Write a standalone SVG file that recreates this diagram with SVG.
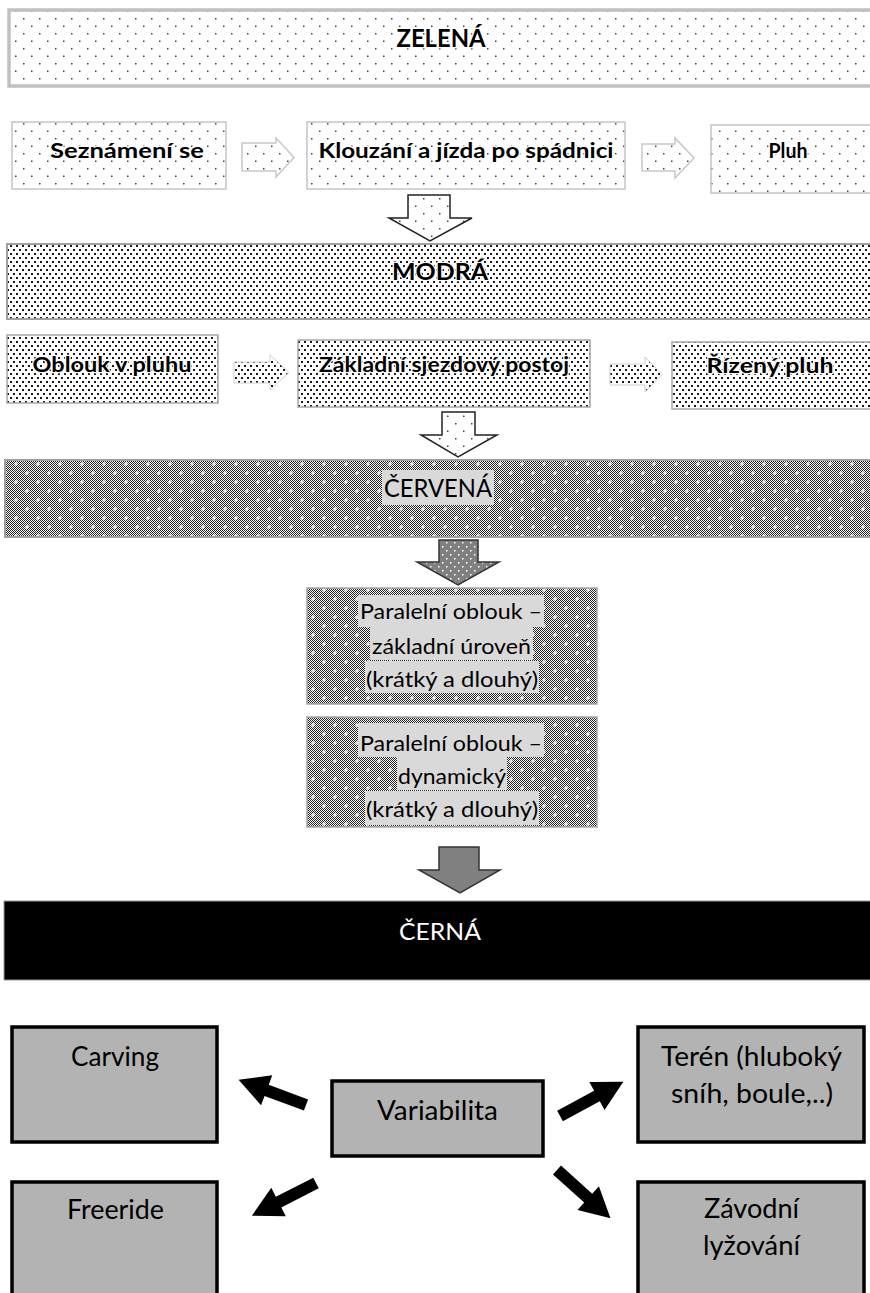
<svg xmlns="http://www.w3.org/2000/svg" width="870" height="1293" viewBox="0 0 870 1293">
<style>
text{font-family:Lato,"Open Sans","DejaVu Sans",sans-serif;text-anchor:middle;fill:#000}
.b{font-weight:bold}
.halo{stroke:#fff;stroke-width:2.5;paint-order:stroke;stroke-linejoin:round}
.sparse{fill:url(#pSparse)}
.dense{fill:url(#pDense)}
.dark{fill:url(#pDark)}
.hl{fill:#d9d9d9}
.gbox{fill:#b3b3b3;stroke:#000;stroke-width:3.5}
.bord1{stroke:#c4c4c4;stroke-width:1.5}
.bord2{stroke:#a6a6a6;stroke-width:1.5}
.ban1{stroke:#c0c0c0;stroke-width:3.5}
.ban2{stroke:#a0a0a0;stroke-width:2}
.lt-arrow{fill:url(#pSparse);stroke:#c8c8c8;stroke-width:1.5}
.dn-arrow{fill:url(#pDense);stroke:#d0d0d0;stroke-width:1}
.out-arrow{fill:url(#pSparse);stroke:#222;stroke-width:1.5}
.red-arrow{fill:url(#pGrayDot);stroke:#333;stroke-width:1.5}
.blk-arrow{fill:#808080;stroke:#333;stroke-width:1.5}
.bl{fill:#000}
.wt{fill:#fff}
</style>
<defs>
<pattern id="pSparse" width="16" height="15" patternUnits="userSpaceOnUse">
<rect width="16" height="15" fill="#fff"/>
<rect x="7" y="3" width="1.5" height="1.5" fill="#444"/>
<rect x="15" y="10.5" width="1.5" height="1.5" fill="#444"/>
<rect x="-1" y="10.5" width="1.5" height="1.5" fill="#444"/>
</pattern>
<pattern id="pDense" width="6" height="8" patternUnits="userSpaceOnUse">
<rect width="6" height="8" fill="#fff"/>
<rect x="1" y="1" width="2" height="2" fill="#1a1a1a"/>
<rect x="4" y="5" width="2" height="2" fill="#1a1a1a"/>
</pattern>
<pattern id="pChk" width="2" height="2" patternUnits="userSpaceOnUse">
<rect width="2" height="2" fill="#fff"/>
<rect x="0" y="0" width="1" height="1" fill="#222"/>
<rect x="1" y="1" width="1" height="1" fill="#222"/>
</pattern>
<pattern id="pDark" width="22" height="18" patternUnits="userSpaceOnUse">
<rect width="22" height="18" fill="url(#pChk)"/>
<path d="M5 3v4M3 5h4M16 12v4M14 14h4" stroke="#fff" stroke-width="1.2"/>
</pattern>
<pattern id="pGrayDot" width="8" height="8" patternUnits="userSpaceOnUse">
<rect width="8" height="8" fill="#808080"/>
<rect x="2" y="2" width="1.5" height="1.5" fill="#fff"/>
<rect x="6" y="6" width="1.5" height="1.5" fill="#fff"/>
</pattern>
<path id="bigArrow" d="M0,-6 L42,-6 L42,-16 L72,0 L42,16 L42,6 L0,6 Z"/>
</defs>

<g id="zelena">
<rect x="9" y="10" width="868" height="76" class="sparse ban1"/>
<text x="441" y="47" font-size="24" class="b halo" textLength="89" lengthAdjust="spacingAndGlyphs">ZELENÁ</text>
</g>

<g id="seznameni">
<rect x="12" y="122" width="214" height="67" class="sparse bord1"/>
<text x="127" y="158" font-size="21" class="b halo" textLength="154" lengthAdjust="spacingAndGlyphs">Seznámení se</text>
</g>
<g id="klouzani">
<rect x="307" y="122" width="318" height="67" class="sparse bord1"/>
<text x="466" y="158" font-size="21" class="b halo" textLength="295" lengthAdjust="spacingAndGlyphs">Klouzání a jízda po spádnici</text>
</g>
<g id="pluh">
<rect x="711" y="125" width="170" height="68" class="sparse bord1"/>
<text x="788" y="158" font-size="21" class="b halo" textLength="39" lengthAdjust="spacingAndGlyphs">Pluh</text>
</g>

<g id="modra">
<rect x="7" y="244" width="870" height="75" class="dense ban2"/>
<text x="440" y="280" font-size="23" class="b halo" textLength="96" lengthAdjust="spacingAndGlyphs">MODRÁ</text>
</g>

<g id="oblouk-v-pluhu">
<rect x="7" y="335" width="211" height="68" class="dense bord2"/>
<text x="112" y="372" font-size="21" class="b halo" textLength="159" lengthAdjust="spacingAndGlyphs">Oblouk v pluhu</text>
</g>
<g id="zakladni-postoj">
<rect x="298" y="340" width="292" height="67" class="dense bord2"/>
<text x="444" y="372" font-size="21" class="b halo" textLength="250" lengthAdjust="spacingAndGlyphs">Základní sjezdový postoj</text>
</g>
<g id="rizeny-pluh">
<rect x="672" y="342" width="210" height="67" class="dense bord2"/>
<text x="770" y="373" font-size="21" class="b halo" textLength="127" lengthAdjust="spacingAndGlyphs">Řízený pluh</text>
</g>

<g id="cervena">
<rect x="5" y="460" width="872" height="77" class="dark ban2"/>
<rect x="382" y="470" width="112" height="35" class="hl"/>
<text x="438" y="497" font-size="25" textLength="108" lengthAdjust="spacingAndGlyphs">ČERVENÁ</text>
</g>

<g id="paralelni-zakladni">
<rect x="307" y="588" width="290" height="116" class="dark bord2"/>
<rect x="358" y="595" width="186" height="32" class="hl"/>
<rect x="370" y="627" width="163" height="33" class="hl"/>
<rect x="365" y="661" width="174" height="32" class="hl"/>
<text x="451" y="619" font-size="22" textLength="182" lengthAdjust="spacingAndGlyphs">Paralelní oblouk –</text>
<text x="451.5" y="654" font-size="22" textLength="159" lengthAdjust="spacingAndGlyphs">základní úroveň</text>
<text x="452" y="687" font-size="22" textLength="172" lengthAdjust="spacingAndGlyphs">(krátký a dlouhý)</text>
</g>

<g id="paralelni-dynamicky">
<rect x="307" y="717" width="290" height="110" class="dark bord2"/>
<rect x="358" y="723" width="186" height="34" class="hl"/>
<rect x="397" y="757" width="110" height="33" class="hl"/>
<rect x="365" y="791" width="174" height="34" class="hl"/>
<text x="451" y="751" font-size="22" textLength="182" lengthAdjust="spacingAndGlyphs">Paralelní oblouk –</text>
<text x="452" y="784" font-size="22" textLength="108" lengthAdjust="spacingAndGlyphs">dynamický</text>
<text x="452" y="817" font-size="22" textLength="172" lengthAdjust="spacingAndGlyphs">(krátký a dlouhý)</text>
</g>

<g id="cerna">
<rect x="4" y="901" width="872" height="79" fill="#000" stroke="#999" stroke-width="1"/>
<text x="440" y="940" font-size="23" class="wt" textLength="82" lengthAdjust="spacingAndGlyphs">ČERNÁ</text>
</g>

<g id="carving">
<rect x="12" y="1027" width="205" height="115" class="gbox"/>
<text x="115" y="1066" font-size="27" textLength="88" lengthAdjust="spacingAndGlyphs">Carving</text>
</g>
<g id="variabilita">
<rect x="332" y="1081" width="211" height="75" class="gbox"/>
<text x="437.5" y="1120" font-size="27" textLength="121" lengthAdjust="spacingAndGlyphs">Variabilita</text>
</g>
<g id="teren">
<rect x="638" y="1027" width="226" height="115" class="gbox"/>
<text x="751.5" y="1066" font-size="27" textLength="181" lengthAdjust="spacingAndGlyphs">Terén (hluboký</text>
<text x="752" y="1103" font-size="27" textLength="162" lengthAdjust="spacingAndGlyphs">sníh, boule,..)</text>
</g>
<g id="freeride">
<rect x="12" y="1182" width="205" height="125" class="gbox"/>
<text x="115.5" y="1219" font-size="27" textLength="97" lengthAdjust="spacingAndGlyphs">Freeride</text>
</g>
<g id="zavodni">
<rect x="638" y="1182" width="226" height="125" class="gbox"/>
<text x="751.5" y="1218" font-size="27" textLength="95" lengthAdjust="spacingAndGlyphs">Závodní</text>
<text x="751.5" y="1255" font-size="27" textLength="97" lengthAdjust="spacingAndGlyphs">lyžování</text>
</g>

<g id="connectors">
<polygon class="lt-arrow" points="242,143 276,143 276,138 294,157.5 276,177 276,171 242,171"/>
<polygon class="lt-arrow" points="642,144 675,144 675,138 694,158 675,178 675,171 642,171"/>
<polygon class="out-arrow" points="408,195 450,195 450,218 472,218 430,241 389,218 408,218"/>
<polygon class="dn-arrow" points="234,362 270,362 270,355 289,372.5 270,390 270,383 234,383"/>
<polygon class="dn-arrow" points="610,364 645,364 645,357 662,374.5 645,392 645,385 610,385"/>
<polygon class="out-arrow" points="442,412 475,412 475,435 497,435 458,457 421,435 442,435"/>
<polygon class="red-arrow" points="439,540 478,540 478,562 499,562 458,585 417,562 439,562"/>
<polygon class="blk-arrow" points="439,847 479,847 479,870 500,870 460,893 419,870 439,870"/>
<use href="#bigArrow" class="bl" transform="translate(306,1105) rotate(200.5)"/>
<use href="#bigArrow" class="bl" transform="translate(560,1116) rotate(-28.4)"/>
<use href="#bigArrow" class="bl" transform="translate(316,1183) rotate(153)"/>
<use href="#bigArrow" class="bl" transform="translate(557,1170) rotate(42)"/>
</g>
</svg>
